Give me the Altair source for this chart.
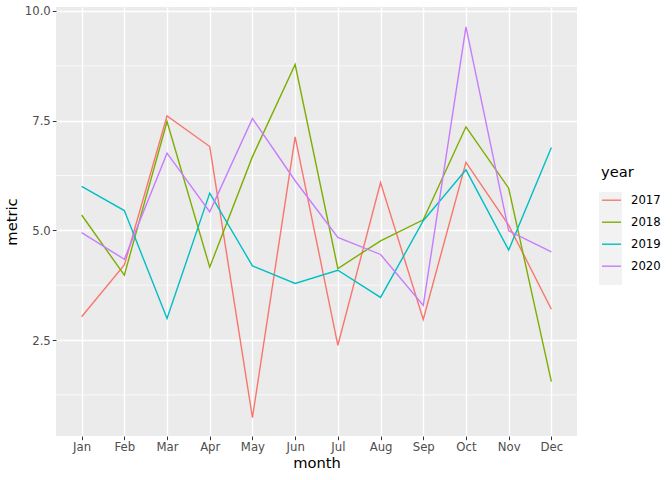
import altair as alt
import pandas as pd

months = ["Jan", "Feb", "Mar", "Apr", "May", "Jun", "Jul", "Aug", "Sep", "Oct", "Nov", "Dec"]
years = ["2017", "2018", "2019", "2020"]
v2017 = [3.03, 4.21, 7.61, 6.91, 0.73, 7.13, 2.38, 6.09, 2.97, 6.55, 5.12, 3.20]
v2018 = [5.35, 3.98, 7.48, 4.16, 6.68, 8.78, 4.13, 4.76, 5.24, 7.36, 5.96, 1.55]
v2019 = [6.00, 5.45, 2.99, 5.85, 4.19, 3.79, 4.09, 3.47, 5.22, 6.38, 4.55, 6.89]
v2020 = [4.95, 4.34, 6.76, 5.42, 7.55, 6.13, 4.84, 4.45, 3.29, 9.64, 4.99, 4.51]
colors = ["#F8766D", "#7CAE00", "#00BFC4", "#C77CFF"]
major_y = [2.5, 5.0, 7.5, 10.0]
minor_y = [1.25, 3.75, 6.25, 8.75]

rows = []
for yr, vals in zip(years, [v2017, v2018, v2019, v2020]):
    for m, v in zip(months, vals):
        rows.append({"month": m, "year": yr, "metric": v})
df = pd.DataFrame(rows)
minor_df = pd.DataFrame({"metric": minor_y})
key_df = pd.DataFrame({"k": [0]})

FONT = "DejaVu Sans"
yscale = alt.Scale(domain=[0.312, 10.091], nice=False, zero=False)

minor = alt.Chart(minor_df).mark_rule(color="white", strokeWidth=0.7).encode(
    y=alt.Y("metric:Q", scale=yscale)
)

keybg = alt.Chart(key_df).mark_rect(color="#F2F2F2").encode(
    x=alt.value(543), x2=alt.value(566), y=alt.value(185), y2=alt.value(278)
)

lines = alt.Chart(df).mark_line(strokeWidth=1.4).encode(
    x=alt.X(
        "month:O",
        sort=months,
        scale=alt.Scale(type="point", padding=0.6),
        axis=alt.Axis(
            title="month",
            labelAngle=0,
            labelFontSize=11.7,
            labelColor="#4D4D4D",
            labelPadding=2,
            tickColor="#333333",
            tickSize=3.7,
            domain=False,
            grid=True,
            gridColor="white",
            gridWidth=1.4,
            titleFontSize=14.7,
            titleFontWeight="normal",
            titleColor="black",
            titlePadding=2,
        ),
    ),
    y=alt.Y(
        "metric:Q",
        scale=yscale,
        axis=alt.Axis(
            title="metric",
            values=major_y,
            format=".1f",
            labelFontSize=11.7,
            labelColor="#4D4D4D",
            labelPadding=2,
            tickColor="#333333",
            tickSize=3.7,
            domain=False,
            grid=True,
            gridColor="white",
            gridWidth=1.4,
            titleFontSize=14.7,
            titleFontWeight="normal",
            titleColor="black",
            titleX=-44,
            titleBaseline="middle",
        ),
    ),
    color=alt.Color(
        "year:N",
        scale=alt.Scale(domain=years, range=colors),
        legend=alt.Legend(
            title="year",
            orient="none",
            legendX=545,
            legendY=158,
            symbolType="stroke",
            symbolSize=361,
            symbolStrokeWidth=1.4,
            labelFontSize=11.7,
            labelColor="black",
            labelOffset=9,
            titleFontSize=14.7,
            titleFontWeight="normal",
            titleColor="black",
            titlePadding=10,
            rowPadding=4,
        ),
    ),
    detail="year:N",
)

chart = (
    alt.layer(minor, keybg, lines)
    .properties(
        width=521,
        height=429,
        padding={"left": 56, "top": 7, "right": 95, "bottom": 44},
        autosize=alt.AutoSizeParams(type="none"),
        background="white",
    )
    .configure(font=FONT)
    .configure_view(fill="#EBEBEB", strokeWidth=0, stroke="transparent")
)

chart.save("out.html", embed_options={"renderer": "svg", "actions": False})
